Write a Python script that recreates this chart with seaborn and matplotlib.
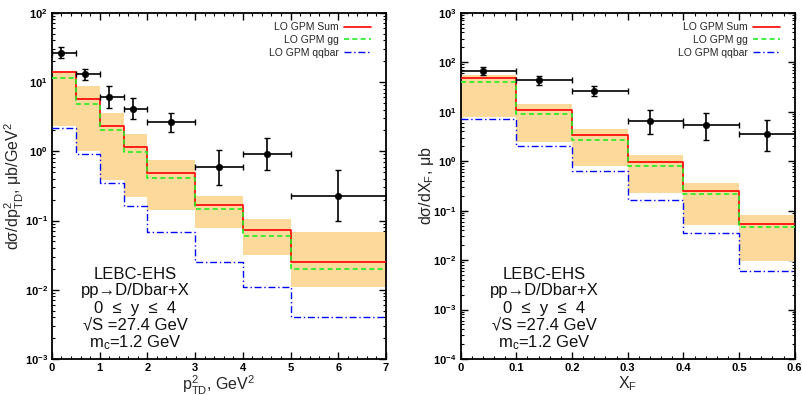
import numpy as np
import pandas as pd
import seaborn as sns
import matplotlib
matplotlib.use('Agg')
import matplotlib.pyplot as plt
from matplotlib.ticker import AutoMinorLocator, LogLocator, FuncFormatter

# left panel: dsigma/dpT^2
pt_edges = [0, 0.5, 1, 1.5, 2, 3, 4, 5, 7]
pt_sum = [13.9, 5.6, 2.3, 1.14, 0.48, 0.17, 0.072, 0.025]
pt_gg = [11.6, 4.8, 2.0, 0.98, 0.41, 0.146, 0.060, 0.020]
pt_qq = [2.2, 0.91, 0.35, 0.163, 0.068, 0.025, 0.011, 0.0041]
pt_band_hi = [14.2, 8.7, 3.6, 1.76, 0.74, 0.224, 0.105, 0.068]
pt_band_lo = [2.3, 1.0, 0.38, 0.22, 0.142, 0.078, 0.032, 0.011]
pt_x = [0.2, 0.7, 1.2, 1.7, 2.5, 3.5, 4.5, 6.0]
pt_y = [26.6, 13.2, 6.15, 4.13, 2.65, 0.594, 0.90, 0.229]
pt_yhi = [31.6, 15.6, 8.66, 5.9, 3.57, 1.04, 1.58, 0.544]
pt_ylo = [22.0, 10.7, 4.27, 2.9, 1.92, 0.323, 0.53, 0.099]

# right panel: dsigma/dxF
xf_edges = [0, 0.1, 0.2, 0.3, 0.4, 0.5, 0.6]
xf_sum = [47, 10.9, 3.36, 0.955, 0.25, 0.054]
xf_gg = [40, 8.9, 2.74, 0.81, 0.22, 0.0475]
xf_qq = [7.1, 1.98, 0.62, 0.165, 0.036, 0.0061]
xf_band_hi = [55, 14, 4.37, 1.34, 0.37, 0.082]
xf_band_lo = [7.8, 2.46, 0.78, 0.225, 0.052, 0.0098]
xf_x = [0.04, 0.14, 0.24, 0.34, 0.44, 0.55]
xf_y = [67, 42.8, 26.5, 6.45, 5.36, 3.52]
xf_yhi = [81, 52.6, 33.5, 10.8, 9.5, 6.95]
xf_ylo = [55, 34.5, 20.7, 3.57, 2.74, 1.62]

labels = ['LO GPM Sum', 'LO GPM gg', 'LO GPM qqbar']
info_lines = ['LEBC-EHS', 'pp\u2192D/Dbar+X', '0  \u2264  y  \u2264  4',
              '\u221aS =27.4 GeV', r'm$_{\rm c}$=1.2 GeV']

sns.set_theme(style='ticks')
plt.rcParams['font.family'] = ['Liberation Sans', 'DejaVu Sans']
plt.rcParams['mathtext.fontset'] = 'custom'
plt.rcParams['mathtext.rm'] = 'Liberation Sans'
plt.rcParams['mathtext.it'] = 'Liberation Sans:italic'
plt.rcParams['mathtext.bf'] = 'Liberation Sans:bold'

band_color = '#fdd99b'


def steps(edges, vals):
    return pd.DataFrame({'x': edges, 'y': list(vals) + [vals[-1]]})


def log_fmt(v, pos):
    e = int(round(np.log10(v)))
    return r'$\mathbf{10^{%d}}$' % e


def panel(ax, edges, vsum, vgg, vqq, hi, lo, px, py, pyhi, pylo, xlim, ylim):
    ax.fill_between(edges, list(lo) + [lo[-1]], list(hi) + [hi[-1]],
                    step='post', color=band_color, lw=0, zorder=1)
    sns.lineplot(data=steps(edges, vsum), x='x', y='y', ax=ax, color='#ff0000',
                 lw=1.2, drawstyle='steps-post', estimator=None, sort=False,
                 label=labels[0], zorder=3)
    sns.lineplot(data=steps(edges, vgg), x='x', y='y', ax=ax, color='#22ee22',
                 lw=1.2, drawstyle='steps-post', estimator=None, sort=False,
                 dashes=False, linestyle=(0, (3, 2)), label=labels[1], zorder=3)
    sns.lineplot(data=steps(edges, vqq), x='x', y='y', ax=ax, color='#0000ff',
                 lw=1.0, drawstyle='steps-post', estimator=None, sort=False,
                 linestyle=(0, (5, 2, 1, 2)), label=labels[2], zorder=3)

    px = np.array(px)
    py = np.array(py)
    e = np.array(edges)
    xl = px - e[:-1]
    xh = e[1:] - px
    ax.errorbar(px, py, xerr=[xl, xh],
                yerr=[py - np.array(pylo), np.array(pyhi) - py],
                fmt='none', ecolor='black', elinewidth=1.2, capsize=2.5,
                capthick=1.0, zorder=4)
    sns.scatterplot(x=px, y=py, ax=ax, color='black', s=22, edgecolor='black',
                    zorder=5, legend=False)

    ax.set_yscale('log')
    ax.set_xlim(*xlim)
    ax.set_ylim(*ylim)
    ax.yaxis.set_major_locator(LogLocator(base=10, numticks=20))
    ax.yaxis.set_minor_locator(LogLocator(base=10, subs=np.arange(2, 10), numticks=20))
    ax.yaxis.set_major_formatter(FuncFormatter(log_fmt))
    ax.xaxis.set_minor_locator(AutoMinorLocator(5))
    ax.tick_params(which='both', direction='in', top=True, right=True,
                   colors='black', labelsize=8)
    ax.tick_params(which='major', length=5, width=1.0)
    ax.tick_params(which='minor', length=2.5, width=0.8)
    ax.tick_params(axis='y', pad=3)
    ax.tick_params(axis='x', pad=3)
    for s in ax.spines.values():
        s.set_color('black')
        s.set_linewidth(1.3)

    ax.legend(loc='upper right', bbox_to_anchor=(0.975, 0.99), frameon=False,
              markerfirst=False, fontsize=7.5, handlelength=2.6,
              labelspacing=0.25, borderaxespad=0.2, handletextpad=0.5)
    for t, yy in zip(info_lines, [0.245, 0.197, 0.147, 0.098, 0.046]):
        ax.text(0.25, yy, t, transform=ax.transAxes, ha='center', va='center',
                fontsize=12, color='#111111')


fig = plt.figure(figsize=(8.03, 3.95), dpi=100)
ax1 = fig.add_axes([0.0647, 0.0911, 0.416, 0.8766])
ax2 = fig.add_axes([0.5737, 0.0911, 0.416, 0.8766])

panel(ax1, pt_edges, pt_sum, pt_gg, pt_qq, pt_band_hi, pt_band_lo,
      pt_x, pt_y, pt_yhi, pt_ylo, (0, 7), (1e-3, 1e2))
panel(ax2, xf_edges, xf_sum, xf_gg, xf_qq, xf_band_hi, xf_band_lo,
      xf_x, xf_y, xf_yhi, xf_ylo, (0, 0.6), (1e-4, 1e3))

ax1.set_xticks(range(0, 8))
ax1.set_xticklabels([str(i) for i in range(8)], fontweight='bold')
ax2.set_xticks([0, 0.1, 0.2, 0.3, 0.4, 0.5, 0.6])
ax2.set_xticklabels(['0', '0.1', '0.2', '0.3', '0.4', '0.5', '0.6'], fontweight='bold')

ax1.set_xlabel('p$^2_{\\rm TD}$, GeV$^2$', fontsize=11.5)
ax1.set_ylabel('d\u03c3/dp$^2_{\\rm TD}$, \u03bcb/GeV$^2$', fontsize=11.5)
ax2.set_xlabel('X$_{\\rm F}$', fontsize=11.5)
ax2.set_ylabel('d\u03c3/dX$_{\\rm F}$, \u03bcb', fontsize=11.5)
for ax in (ax1, ax2):
    ax.xaxis.set_label_coords(0.5, -0.044)
ax1.yaxis.set_label_coords(-0.079, 0.5)
ax2.yaxis.set_label_coords(-0.075, 0.5)

fig.savefig('out.png', dpi=100)
